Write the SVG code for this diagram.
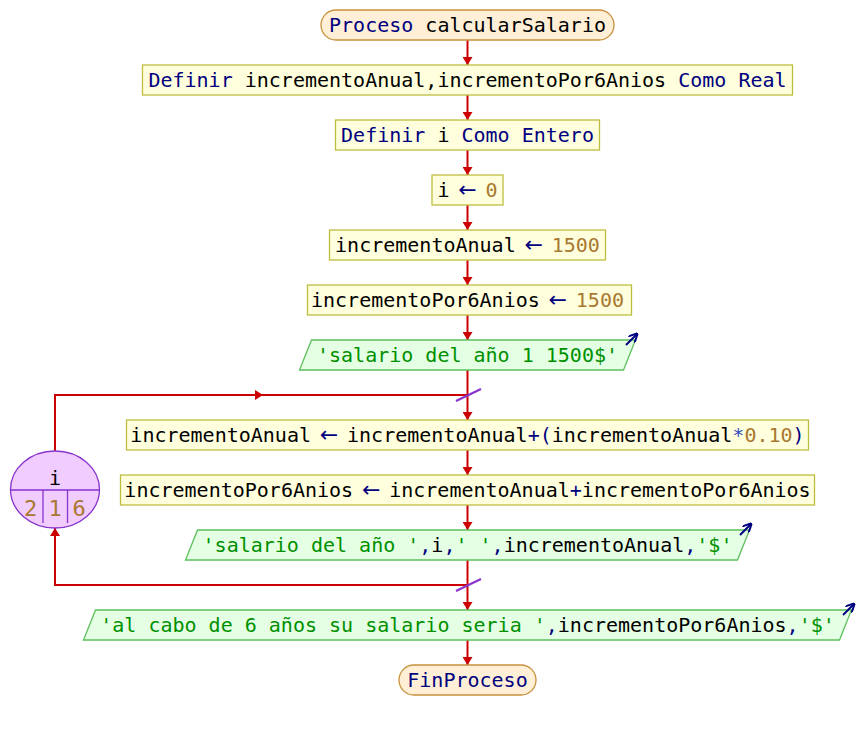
<svg xmlns="http://www.w3.org/2000/svg" width="856" height="730" viewBox="0 0 856 730">
<style>
text{font-family:"DejaVu Sans Mono","Liberation Mono",monospace;font-size:20px;fill:#000}
.k{fill:#000080}
.ar{fill:#000080;font-family:"DejaVu Sans","Liberation Sans",sans-serif;font-size:22px}
.sp{font-size:14.6px}
.n{fill:#A87830}
.s{fill:#009000}
.o{fill:#3050C0}
.box{fill:#FFFFDD;stroke:#BDBD40;stroke-width:1.3}
.out{fill:#E4FFE4;stroke:#5CC05C;stroke-width:1.3}
.term{fill:#FFEFD6;stroke:#C8903C;stroke-width:1.3}
.c{fill:none;stroke:#CC0000;stroke-width:2}
.mk{stroke:#8833CC;stroke-width:2.2}
.oa{stroke:#000080;stroke-width:2;fill:none}
</style>
<defs>
<marker id="ar" viewBox="0 0 8 10" markerWidth="8" markerHeight="10" markerUnits="userSpaceOnUse" refX="8" refY="5" orient="auto">
<path d="M0,0 L8,5 L0,10 z" fill="#CC0000"/>
</marker>
<marker id="oar" viewBox="0 0 8 8" markerWidth="9" markerHeight="9" markerUnits="userSpaceOnUse" refX="7" refY="4" orient="auto">
<path d="M0,0 L8,4 L0,8" fill="none" stroke="#000080" stroke-width="1.8"/>
</marker>
</defs>
<g id="connectors">
<path class="c" d="M467.5,40 V65" marker-end="url(#ar)"/>
<path class="c" d="M467.5,95 V120" marker-end="url(#ar)"/>
<path class="c" d="M467.5,150 V175" marker-end="url(#ar)"/>
<path class="c" d="M467.5,205 V230" marker-end="url(#ar)"/>
<path class="c" d="M467.5,260 V285" marker-end="url(#ar)"/>
<path class="c" d="M467.5,315 V340" marker-end="url(#ar)"/>
<path class="c" d="M467.5,370 V420" marker-end="url(#ar)"/>
<path class="c" d="M467.5,450 V475" marker-end="url(#ar)"/>
<path class="c" d="M467.5,505 V530" marker-end="url(#ar)"/>
<path class="c" d="M467.5,560 V610" marker-end="url(#ar)"/>
<path class="c" d="M467.5,640 V665" marker-end="url(#ar)"/>
<path class="c" d="M55,451 V395 H263" marker-end="url(#ar)"/>
<path class="c" d="M262,395 H467.5"/>
<path class="c" d="M467.5,585 H55 V528" marker-end="url(#ar)"/>
<line class="mk" x1="456" y1="401" x2="481" y2="389"/>
<line class="mk" x1="456" y1="591" x2="481" y2="579"/>
</g>
<g id="inicio">
<rect class="term" x="321" y="10" width="293" height="30" rx="15" ry="15"/>
<text x="467.5" y="32" text-anchor="middle" xml:space="preserve"><tspan class="k">Proceso</tspan> calcularSalario</text>
</g>
<g id="definir1">
<rect class="box" x="142.5" y="65" width="650" height="30"/>
<text x="467.5" y="87" text-anchor="middle" xml:space="preserve"><tspan class="k">Definir</tspan> incrementoAnual,incrementoPor6Anios <tspan class="k">Como</tspan> <tspan class="k">Real</tspan></text>
</g>
<g id="definir2">
<rect class="box" x="335.5" y="120" width="264" height="30"/>
<text x="467.5" y="142" text-anchor="middle" xml:space="preserve"><tspan class="k">Definir</tspan> i <tspan class="k">Como</tspan> <tspan class="k">Entero</tspan></text>
</g>
<g id="asig1">
<rect class="box" x="432" y="175" width="71" height="30"/>
<text x="467.5" y="197" text-anchor="middle" xml:space="preserve">i<tspan class="sp"> </tspan><tspan class="ar">←</tspan><tspan class="sp"> </tspan><tspan class="n">0</tspan></text>
</g>
<g id="asig2">
<rect class="box" x="329.5" y="230" width="276" height="30"/>
<text x="467.5" y="252" text-anchor="middle" xml:space="preserve">incrementoAnual<tspan class="sp"> </tspan><tspan class="ar">←</tspan><tspan class="sp"> </tspan><tspan class="n">1500</tspan></text>
</g>
<g id="asig3">
<rect class="box" x="307.5" y="285" width="324" height="30"/>
<text x="467.5" y="307" text-anchor="middle" xml:space="preserve">incrementoPor6Anios<tspan class="sp"> </tspan><tspan class="ar">←</tspan><tspan class="sp"> </tspan><tspan class="n">1500</tspan></text>
</g>
<g id="escribir1">
<polygon class="out" points="311.5,340 635.5,340 623.5,370 299.5,370"/>
<text x="467.5" y="362" text-anchor="middle" class="s" xml:space="preserve">'salario del año 1 1500$'</text>
<path class="oa" d="M626,345 L637,334" marker-end="url(#oar)"/>
</g>
<g id="para">
<ellipse cx="55" cy="489.5" rx="44.5" ry="38.5" fill="#F0CCFF" stroke="#8833CC" stroke-width="1.3"/>
<line x1="10.5" y1="490" x2="99.5" y2="490" stroke="#8833CC" stroke-width="1.3"/>
<line x1="43" y1="490" x2="43" y2="523" stroke="#8833CC" stroke-width="1.3"/>
<line x1="67.5" y1="490" x2="67.5" y2="523" stroke="#8833CC" stroke-width="1.3"/>
<text x="55" y="485" text-anchor="middle">i</text>
<text x="30.5" y="516" text-anchor="middle" class="n" style="font-size:22px">2</text>
<text x="55" y="516" text-anchor="middle" class="n" style="font-size:22px">1</text>
<text x="79" y="516" text-anchor="middle" class="n" style="font-size:22px">6</text>
</g>
<g id="asig4">
<rect class="box" x="126.5" y="420" width="682" height="30"/>
<text x="467.5" y="442" text-anchor="middle" xml:space="preserve">incrementoAnual<tspan class="sp"> </tspan><tspan class="ar">←</tspan><tspan class="sp"> </tspan>incrementoAnual<tspan class="k">+</tspan><tspan class="k">(</tspan>incrementoAnual<tspan class="o">*</tspan><tspan class="n">0.10</tspan><tspan class="k">)</tspan></text>
</g>
<g id="asig5">
<rect class="box" x="120.5" y="475" width="694" height="30"/>
<text x="467.5" y="497" text-anchor="middle" xml:space="preserve">incrementoPor6Anios<tspan class="sp"> </tspan><tspan class="ar">←</tspan><tspan class="sp"> </tspan>incrementoAnual<tspan class="k">+</tspan>incrementoPor6Anios</text>
</g>
<g id="escribir2">
<polygon class="out" points="197.5,530 749.5,530 737.5,560 185.5,560"/>
<text x="467.5" y="552" text-anchor="middle" xml:space="preserve"><tspan class="s">'salario del año '</tspan><tspan class="k">,</tspan>i<tspan class="k">,</tspan><tspan class="s">' '</tspan><tspan class="k">,</tspan>incrementoAnual<tspan class="k">,</tspan><tspan class="s">'$'</tspan></text>
<path class="oa" d="M740,535 L751,524" marker-end="url(#oar)"/>
</g>
<g id="escribir3">
<polygon class="out" points="95.5,610 851.5,610 839.5,640 83.5,640"/>
<text x="467.5" y="632" text-anchor="middle" xml:space="preserve"><tspan class="s">'al cabo de 6 años su salario seria '</tspan><tspan class="k">,</tspan>incrementoPor6Anios<tspan class="k">,</tspan><tspan class="s">'$'</tspan></text>
<path class="oa" d="M843,615 L854,604" marker-end="url(#oar)"/>
</g>
<g id="fin">
<rect class="term" x="399" y="665" width="137" height="30" rx="15" ry="15"/>
<text x="467.5" y="687" text-anchor="middle" class="k">FinProceso</text>
</g>
</svg>
